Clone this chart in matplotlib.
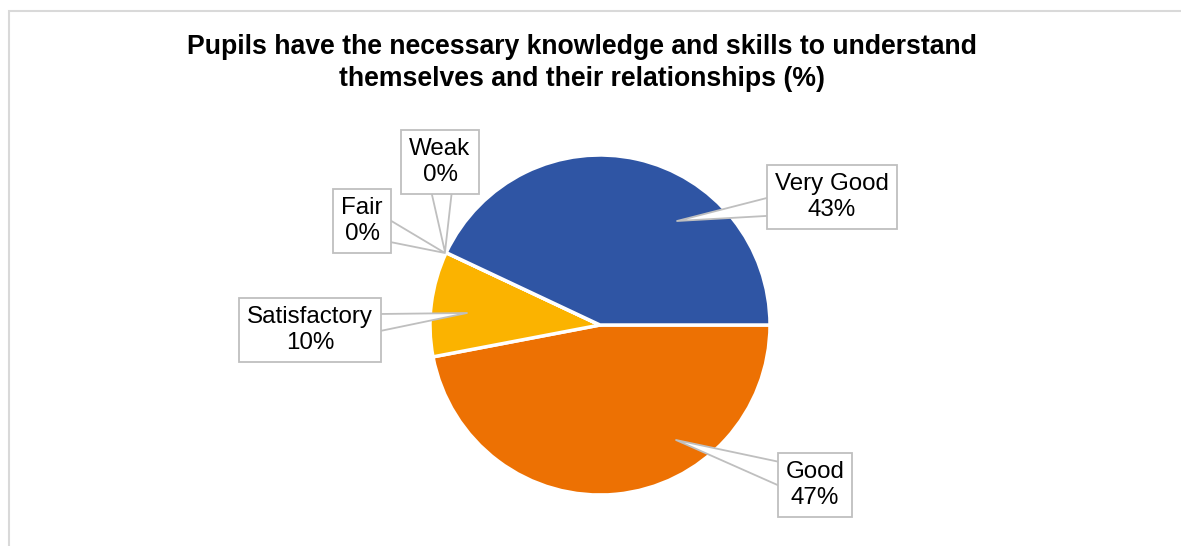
import matplotlib
matplotlib.use("Agg")
import matplotlib.pyplot as plt
from matplotlib.patches import Rectangle

plt.rcParams["font.family"] = ["Liberation Sans", "DejaVu Sans"]

# data (clockwise from 3 o'clock, as drawn)
categories = ["Good", "Satisfactory", "Fair", "Weak", "Very Good"]
values = [47, 10, 0, 0, 43]
colors = ["#ED7103", "#FBB300", "#A5A5A5", "#FFC000", "#2F55A4"]
title = "Pupils have the necessary knowledge and skills to understand\nthemselves and their relationships (%)"

W, H = 1181, 546
fig = plt.figure(figsize=(W / 100, H / 100), dpi=100)
ax = fig.add_axes([0, 0, 1, 1])
ax.set_xlim(0, W)
ax.set_ylim(0, H)
ax.set_aspect("equal")
ax.axis("off")


def py(y):
    # pixel row from top -> data y
    return H - y


# chart frame (runs off the right and bottom edges)
ax.add_patch(Rectangle((8.5, -20), W, py(10.5) + 20, fill=False,
                       ec="#D9D9D9", lw=1.5, zorder=0))

ax.pie(values, colors=colors, startangle=0, counterclock=False,
       center=(600, py(325)), radius=170,
       wedgeprops=dict(edgecolor="white", linewidth=2.5))
ax.set_xlim(0, W)
ax.set_ylim(0, H)

# label positions (text centre, leader tip) in pixels
label_pos = {
    "Very Good": ((832, 197), (677, 221)),
    "Good": ((815, 485), (676, 440)),
    "Satisfactory": ((310, 330), (467, 313)),
    "Fair": ((362, 221), (445, 253)),
    "Weak": ((440, 162), (445, 252)),
}

for cat, val in zip(categories, values):
    (tx, ty), (tipx, tipy) = label_pos[cat]
    # callout pointer, drawn from the box centre; the box hides its base
    ax.annotate("", xy=(tipx, py(tipy)), xytext=(tx, py(ty)),
                arrowprops=dict(arrowstyle="wedge,tail_width=1.1",
                                mutation_scale=20, fc="white",
                                ec="#BFBFBF", lw=1.3,
                                shrinkA=0, shrinkB=0),
                zorder=3)
    ax.text(tx, py(ty), f"{cat}\n{val}%", ha="center", va="center",
            fontsize=17.4, color="#000000", zorder=4, linespacing=1.28,
            bbox=dict(boxstyle="square,pad=0.33", fc="white",
                      ec="#BFBFBF", lw=1.3))

ax.text(582, py(63), title, ha="center", va="center", fontsize=19.2,
        fontweight="bold", color="#000000", linespacing=1.3)

fig.savefig("out.png", dpi=100)
